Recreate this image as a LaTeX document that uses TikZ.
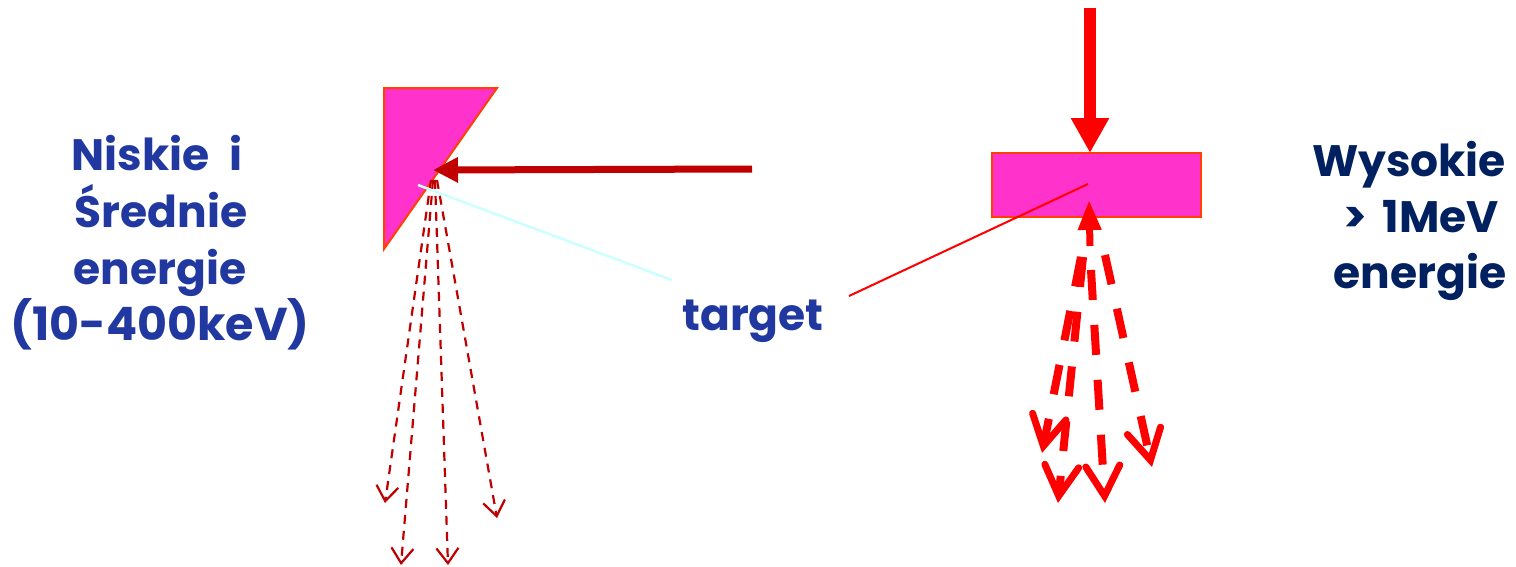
\documentclass[tikz,border=0pt]{standalone}
\usepackage{fontspec}
\setmainfont{Poppins}
\usetikzlibrary{arrows.meta}
\definecolor{targetfill}{RGB}{255,51,204}
\definecolor{targetedge}{RGB}{255,64,0}
\definecolor{beamdark}{RGB}{192,0,0}
\definecolor{beamred}{RGB}{255,0,0}
\definecolor{labelblue}{RGB}{32,56,160}
\definecolor{labelnavy}{RGB}{0,32,96}
\definecolor{leadcyan}{RGB}{204,255,255}
\tikzset{
  targetbody/.style={fill=targetfill, draw=targetedge, line width=2pt, line join=miter},
  lowray/.style={draw=beamdark, line width=2.2pt, dash pattern=on 9pt off 7pt,
    -{Straight Barb[length=15pt,width=22pt,line width=2.2pt]}},
  highray/.style={draw=beamred, line width=8pt, dash pattern=on 30pt off 25pt,
    -{Straight Barb[length=30pt,width=34pt,line width=7pt,line cap=round]}},
  energylabel/.style={font=\fontsize{44}{56}\selectfont\bfseries, inner sep=0pt, anchor=base},
}
\begin{document}
\begin{tikzpicture}[x=1pt,y=-1pt]
\useasboundingbox (0,0) rectangle (1516,566);

% ---- low / medium energy: reflection target (wedge) ----
\draw[targetbody] (384,88) -- (497,88) -- (384,249) -- cycle;
\coordinate (lowhit) at (433,170);
\coordinate (lowsrc) at (752,169);
\coordinate (lowspot) at (433,180);
\coordinate (lowmark) at (418,185);
\draw[beamdark, line width=7pt, -{Triangle[length=25pt,width=24pt]}] (lowsrc) -- (lowhit);

% emitted radiation
\coordinate (lowa) at (385,503);
\coordinate (lowb) at (401,565);
\coordinate (lowc) at (448,565);
\coordinate (lowd) at (497,518);
\draw[lowray] ([xshift=-2pt]lowspot) -- (lowa);
\draw[lowray] (lowspot) -- (lowb);
\draw[lowray] ([xshift=2pt]lowspot) -- (lowc);
\draw[lowray] ([xshift=4pt]lowspot) -- (lowd);

% ---- high energy: transmission target (slab) ----
\draw[targetbody] (992,153) rectangle (1201,217);
\coordinate (highsrc) at (1090,8);
\coordinate (highhit) at (1090,153);
\coordinate (highmark) at (1088,184);
\draw[beamred, line width=12pt, -{Triangle[length=35pt,width=36pt]}] (highsrc) -- (highhit);
\coordinate (highback) at (1090,246);
\coordinate (highexit) at (1089,200);
\draw[beamred, line width=7pt, -{Triangle[length=30pt,width=22pt]}] (highback) -- (highexit);

% emitted radiation
\coordinate (higha0) at (1081,257);
\coordinate (highb0) at (1083,257);
\coordinate (highc0) at (1091,270);
\coordinate (highd0) at (1105,255);
\coordinate (higha) at (1042,453);
\coordinate (highb) at (1058,503);
\coordinate (highc) at (1105,503);
\coordinate (highd) at (1152,467);
\draw[highray] (higha0) -- (higha);
\draw[highray] (highb0) -- (highb);
\draw[highray] (highc0) -- (highc);
\draw[highray] (highd0) -- (highd);

% ---- labels ----
\node[energylabel, text=labelblue] (low1) at (157,170) {Niskie\hspace{0.45em}i};
\node[energylabel, text=labelblue] (low2) at (161,227) {Średnie};
\node[energylabel, text=labelblue] (low3) at (160,284) {energie};
\node[energylabel, text=labelblue, font=\fontsize{46}{56}\selectfont\bfseries] (low4) at (160,340) {(10-400keV)};

\node[energylabel, text=labelnavy] (high1) at (1409,176) {Wysokie};
\node[energylabel, text=labelnavy] (high2) at (1421,232) {>\hspace{0.35em}1MeV};
\node[energylabel, text=labelnavy] (high3) at (1420,288) {energie};

\node[energylabel, text=labelblue] (target) at (753,330) {target};
\coordinate (targetcyan) at (672,280);
\coordinate (targetred) at (849,296);
\draw[leadcyan, line width=2.5pt] (targetcyan) -- (lowmark);
\draw[beamred, line width=2pt] (targetred) -- (highmark);
\end{tikzpicture}
\end{document}
